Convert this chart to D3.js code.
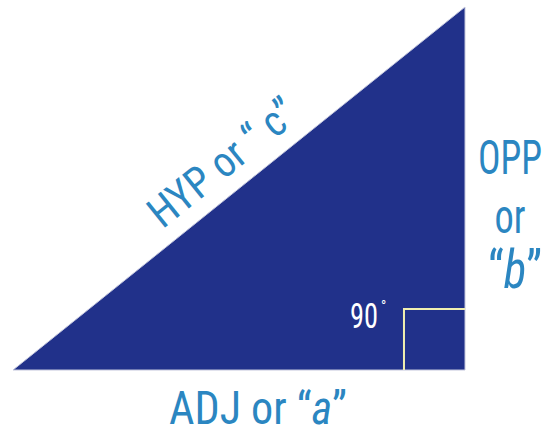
<!DOCTYPE html>
<html>
<head>
<meta charset="utf-8">
<script src="https://cdn.jsdelivr.net/npm/d3@7"></script>
<style>
  html, body { margin: 0; padding: 0; background: #fff; }
  svg { display: block; }
  text { font-family: "Roboto Condensed", "Open Sans", Roboto, sans-serif; font-stretch: condensed; font-weight: 400; }
</style>
</head>
<body>
<script>
// ---- data ----
const sideNames = ["adjacent", "opposite"];
const sideLengths = [5, 4];            // legs of the right triangle (a, b)
const rightAngleMark = [0.675];        // size of the right-angle box, in side units
const angleLabel = ["90", "°"];
const hypLabel = ["HYP or “ ", "c", "”"];
const adjLabel = ["ADJ or “", "a", "”"];
const oppLabel = ["OPP", "or"];
const oppVar = ["“", "b", "”"];

const W = 546, H = 429;
const svg = d3.select("body").append("svg").attr("width", W).attr("height", H);

const x = d3.scaleLinear().domain([0, sideLengths[0]]).range([13, 465]);
const y = d3.scaleLinear().domain([0, sideLengths[1]]).range([370, 7]);

const navy = "#21318a", blue = "#2b86c1";

const pts = [[0, 0], [sideLengths[0], sideLengths[1]], [sideLengths[0], 0]];
svg.append("path")
  .attr("d", d3.line().x(d => x(d[0])).y(d => y(d[1]))(pts) + "Z")
  .attr("fill", navy)
  .attr("stroke", "#c3c6dc")
  .attr("stroke-width", 1);

// right angle marker
const m = rightAngleMark[0];
const mx = x(sideLengths[0]) - x(sideLengths[0] - m);
svg.append("path")
  .attr("d", d3.line()([
    [x(sideLengths[0] - m), y(0)], [x(sideLengths[0] - m), y(0) - mx], [x(sideLengths[0]), y(0) - mx]
  ]))
  .attr("fill", "none")
  .attr("stroke", "#f1efb0")
  .attr("stroke-width", 2);

// 90 degree label
svg.append("text").text(angleLabel[0])
  .attr("x", 350).attr("y", 328)
  .attr("fill", "#fff")
  .attr("font-size", 35)
  .attr("textLength", 28).attr("lengthAdjust", "spacingAndGlyphs");
svg.append("text").text(angleLabel[1])
  .attr("x", 381).attr("y", 311)
  .attr("fill", "#fff")
  .attr("font-size", 14);

function addLabel(parts, italicIdx) {
  const t = svg.append("text").attr("fill", blue);
  parts.forEach((p, i) => {
    const s = t.append("tspan").text(p);
    if (i === italicIdx) s.attr("font-style", "italic");
  });
  return t;
}

// ADJ label
addLabel(adjLabel, 1)
  .attr("x", 169).attr("y", 424)
  .attr("font-size", 47)
  .attr("textLength", 178).attr("lengthAdjust", "spacingAndGlyphs");

// OPP labels
svg.append("text").text(oppLabel[0])
  .attr("x", 510).attr("y", 174).attr("text-anchor", "middle")
  .attr("fill", blue).attr("font-size", 49)
  .attr("textLength", 64).attr("lengthAdjust", "spacingAndGlyphs");
svg.append("text").text(oppLabel[1])
  .attr("x", 510).attr("y", 233).attr("text-anchor", "middle")
  .attr("fill", blue).attr("font-size", 49)
  .attr("textLength", 31).attr("lengthAdjust", "spacingAndGlyphs");
addLabel(oppVar, 1)
  .attr("x", 515).attr("y", 288).attr("text-anchor", "middle")
  .attr("font-size", 53)
  .attr("textLength", 54).attr("lengthAdjust", "spacingAndGlyphs");

// HYP label along hypotenuse
const x0 = x(0), y0 = y(0), x1 = x(sideLengths[0]), y1 = y(sideLengths[1]);
const L = Math.hypot(x1 - x0, y1 - y0);
const ux = (x1 - x0) / L, uy = (y1 - y0) / L;
const nx = uy, ny = -ux;   // normal pointing up-left
const along = 293, off = 16;
const cx = x0 + ux * along + nx * off, cy = y0 + uy * along + ny * off;
const angDeg = Math.atan2(y1 - y0, x1 - x0) * 180 / Math.PI;
addLabel(hypLabel, -1)
  .attr("x", 0).attr("y", 0)
  .attr("text-anchor", "middle")
  .attr("font-size", 43)
  .attr("transform", `translate(${cx},${cy}) rotate(${angDeg})`)
  .attr("textLength", 177).attr("lengthAdjust", "spacingAndGlyphs");
</script>
</body>
</html>
